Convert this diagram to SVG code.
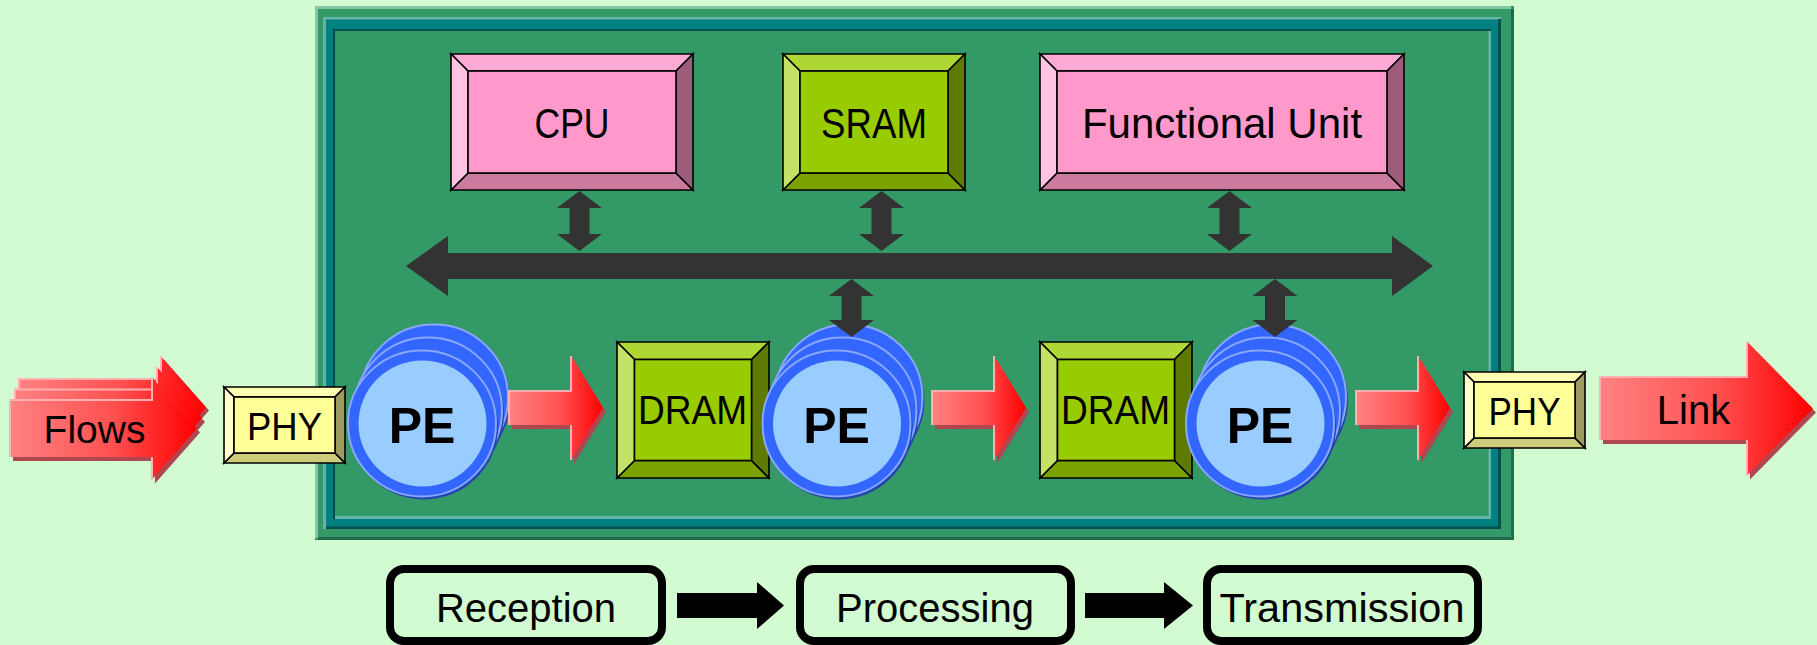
<svg xmlns="http://www.w3.org/2000/svg" width="1817" height="645" viewBox="0 0 1817 645">
<defs>
<linearGradient id="redg" x1="0" y1="0" x2="1" y2="0">
<stop offset="0" stop-color="#ff8282"/>
<stop offset="0.55" stop-color="#ff5050"/>
<stop offset="1" stop-color="#ff0000"/>
</linearGradient>
<style>
.t{font-family:"Liberation Sans",Arial,sans-serif;fill:#000;text-anchor:middle}
.ln{stroke:#000;stroke-width:1.6;stroke-linejoin:miter}
.pk-t{fill:#ffaad5}.pk-l{fill:#ffc4e1}.pk-b{fill:#cc7a9e}.pk-r{fill:#9c5c7a}.pk-f{fill:#ff99cc}
.gr-t{fill:#afd733}.gr-l{fill:#c4e266}.gr-b{fill:#7aa300}.gr-r{fill:#5e7b00}.gr-f{fill:#99cc00}
.ye-t{fill:#ffffb3}.ye-l{fill:#ffffcc}.ye-b{fill:#cccc7a}.ye-r{fill:#9c9c60}.ye-f{fill:#ffff99}
.ring{fill:#3366ff;stroke:#88a8ff;stroke-width:2}
.pshadow{fill:#2444b0}
.face{fill:#99ccff}
.red{fill:url(#redg)}
.rsh{fill:#b04650}
.rhl{fill:none;stroke:#ffb0b0;stroke-width:2}
.dk{fill:#333333}
.blk{fill:#000}
.stage{fill:none;stroke:#000;stroke-width:8}
</style>
</defs>
<rect x="0" y="0" width="1817" height="645" fill="#d2fbd2"/>

<g id="board">
<rect x="315" y="6" width="1199" height="534" fill="#339966"/>
<rect x="315" y="6" width="1196" height="3" fill="#86c6a6"/>
<rect x="315" y="6" width="3" height="532" fill="#86c6a6"/>
<rect x="1511" y="9" width="3" height="531" fill="#206b48"/>
<rect x="318" y="537" width="1196" height="3" fill="#206b48"/>
<rect x="323" y="17" width="1178" height="512" fill="#008080"/>
<rect x="323" y="17" width="1178" height="2.5" fill="#66b3aa"/>
<rect x="323" y="17" width="3" height="512" fill="#66b3aa"/>
<rect x="1498" y="19" width="3" height="510" fill="#004f4f"/>
<rect x="326" y="526.5" width="1175" height="2.5" fill="#004f4f"/>
<rect x="333" y="29" width="1158" height="490" fill="#004f4f"/>
<rect x="335" y="31" width="1156" height="488" fill="#66b3aa"/>
<rect x="335" y="31" width="1153.5" height="485" fill="#339966"/>
</g>

<g id="cpu">
<polygon class="pk-t ln" points="451,54 693,54 676,71 468,71"/>
<polygon class="pk-b ln" points="451,190 693,190 676,173 468,173"/>
<polygon class="pk-l ln" points="451,54 468,71 468,173 451,190"/>
<polygon class="pk-r ln" points="693,54 676,71 676,173 693,190"/>
<rect class="pk-f ln" x="468" y="71" width="208" height="102"/>
<text class="t" x="572" y="138" font-size="42" textLength="75" lengthAdjust="spacingAndGlyphs">CPU</text>
</g>

<g id="sram">
<polygon class="gr-t ln" points="783,54 965,54 948,71 800,71"/>
<polygon class="gr-b ln" points="783,190 965,190 948,173 800,173"/>
<polygon class="gr-l ln" points="783,54 800,71 800,173 783,190"/>
<polygon class="gr-r ln" points="965,54 948,71 948,173 965,190"/>
<rect class="gr-f ln" x="800" y="71" width="148" height="102"/>
<text class="t" x="874" y="138" font-size="42" textLength="106" lengthAdjust="spacingAndGlyphs">SRAM</text>
</g>

<g id="functional-unit">
<polygon class="pk-t ln" points="1040,54 1404,54 1387,71 1057,71"/>
<polygon class="pk-b ln" points="1040,190 1404,190 1387,173 1057,173"/>
<polygon class="pk-l ln" points="1040,54 1057,71 1057,173 1040,190"/>
<polygon class="pk-r ln" points="1404,54 1387,71 1387,173 1404,190"/>
<rect class="pk-f ln" x="1057" y="71" width="330" height="102"/>
<text class="t" x="1222" y="138" font-size="42">Functional Unit</text>
</g>

<g id="dram1">
<polygon class="gr-t ln" points="617,342 769,342 751.5,359.5 634.5,359.5"/>
<polygon class="gr-b ln" points="617,478 769,478 751.5,460.5 634.5,460.5"/>
<polygon class="gr-l ln" points="617,342 634.5,359.5 634.5,460.5 617,478"/>
<polygon class="gr-r ln" points="769,342 751.5,359.5 751.5,460.5 769,478"/>
<rect class="gr-f ln" x="634.5" y="359.5" width="117" height="101"/>
<text class="t" x="692.5" y="424" font-size="40" textLength="109" lengthAdjust="spacingAndGlyphs">DRAM</text>
</g>

<g id="dram2">
<polygon class="gr-t ln" points="1040,342 1192,342 1174.5,359.5 1057.5,359.5"/>
<polygon class="gr-b ln" points="1040,478 1192,478 1174.5,460.5 1057.5,460.5"/>
<polygon class="gr-l ln" points="1040,342 1057.5,359.5 1057.5,460.5 1040,478"/>
<polygon class="gr-r ln" points="1192,342 1174.5,359.5 1174.5,460.5 1192,478"/>
<rect class="gr-f ln" x="1057.5" y="359.5" width="117" height="101"/>
<text class="t" x="1115.5" y="424" font-size="40" textLength="109" lengthAdjust="spacingAndGlyphs">DRAM</text>
</g>

<g id="pe1">
<ellipse class="pshadow" cx="436" cy="400.5" rx="74" ry="73"/>
<ellipse class="ring" cx="434" cy="397.5" rx="74" ry="73"/>
<ellipse class="pshadow" cx="430" cy="413.5" rx="74" ry="73"/>
<ellipse class="ring" cx="428" cy="410.5" rx="74" ry="73"/>
<ellipse class="pshadow" cx="424" cy="426.5" rx="74" ry="73"/>
<ellipse class="ring" cx="422" cy="423.5" rx="74" ry="73"/>
<ellipse class="face" cx="422.5" cy="423.5" rx="64" ry="63"/>
<text class="t" x="422" y="443" font-size="50" font-weight="bold">PE</text>
</g>

<g id="pe2">
<ellipse class="pshadow" cx="850.5" cy="400.5" rx="74" ry="73"/>
<ellipse class="ring" cx="848.5" cy="397.5" rx="74" ry="73"/>
<ellipse class="pshadow" cx="844.5" cy="413.5" rx="74" ry="73"/>
<ellipse class="ring" cx="842.5" cy="410.5" rx="74" ry="73"/>
<ellipse class="pshadow" cx="838.5" cy="426.5" rx="74" ry="73"/>
<ellipse class="ring" cx="836.5" cy="423.5" rx="74" ry="73"/>
<ellipse class="face" cx="837" cy="423.5" rx="64" ry="63"/>
<text class="t" x="836.5" y="443" font-size="50" font-weight="bold">PE</text>
</g>

<g id="pe3">
<ellipse class="pshadow" cx="1274" cy="400.5" rx="74" ry="73"/>
<ellipse class="ring" cx="1272" cy="397.5" rx="74" ry="73"/>
<ellipse class="pshadow" cx="1268" cy="413.5" rx="74" ry="73"/>
<ellipse class="ring" cx="1266" cy="410.5" rx="74" ry="73"/>
<ellipse class="pshadow" cx="1262" cy="426.5" rx="74" ry="73"/>
<ellipse class="ring" cx="1260" cy="423.5" rx="74" ry="73"/>
<ellipse class="face" cx="1260.5" cy="423.5" rx="64" ry="63"/>
<text class="t" x="1260" y="443" font-size="50" font-weight="bold">PE</text>
</g>

<g id="phy-in">
<polygon class="ye-t ln" points="224,387 345,387 335,397 234,397"/>
<polygon class="ye-b ln" points="224,463 345,463 335,453 234,453"/>
<polygon class="ye-l ln" points="224,387 234,397 234,453 224,463"/>
<polygon class="ye-r ln" points="345,387 335,397 335,453 345,463"/>
<rect class="ye-f ln" x="234" y="397" width="101" height="56"/>
<text class="t" x="284.5" y="440" font-size="39" textLength="75" lengthAdjust="spacingAndGlyphs">PHY</text>
</g>

<g id="phy-out">
<polygon class="ye-t ln" points="1464,372 1585,372 1575,382 1474,382"/>
<polygon class="ye-b ln" points="1464,448 1585,448 1575,438 1474,438"/>
<polygon class="ye-l ln" points="1464,372 1474,382 1474,438 1464,448"/>
<polygon class="ye-r ln" points="1585,372 1575,382 1575,438 1585,448"/>
<rect class="ye-f ln" x="1474" y="382" width="101" height="56"/>
<text class="t" x="1524.5" y="425" font-size="39" textLength="72" lengthAdjust="spacingAndGlyphs">PHY</text>
</g>

<g id="flows">
<polygon class="rsh" points="22,382 164,382 164,359.5 209,410.5 164,461.5 164,439 22,439"/>
<polygon class="red" points="19,379 161,379 161,356.5 206,407.5 161,458.5 161,436 19,436"/>
<polyline class="rhl" points="19,436 19,379 161,379 161,356.5"/>
<polygon class="rsh" points="18,393.5 160,393.5 160,371 205,422 160,473 160,450.5 18,450.5"/>
<polygon class="red" points="15,389.5 157,389.5 157,367 202,418 157,469 157,446.5 15,446.5"/>
<polyline class="rhl" points="15,446.5 15,389.5 157,389.5 157,367"/>
<polygon class="rsh" points="13,404 155,404 155,381.5 200,432.5 155,483.5 155,461 13,461"/>
<polygon class="red" points="10,400 152,400 152,377.5 197,428.5 152,479.5 152,457 10,457"/>
<polyline class="rhl" points="10,457 10,400 152,400 152,377.5"/>
<polyline class="rhl" points="152,457 152,479.5"/>
<text class="t" x="94.5" y="442.5" font-size="39">Flows</text>
</g>

<g id="link">
<polygon class="rsh" points="1603,381 1750,381 1750,345.5 1816,412.5 1750,479.5 1750,444 1603,444"/>
<polygon class="red" points="1600,377 1747,377 1747,341.5 1813,408.5 1747,475.5 1747,440 1600,440"/>
<polyline class="rhl" points="1600,440 1600,377 1747,377 1747,341.5"/>
<polyline class="rhl" points="1747,440 1747,475.5"/>
<text class="t" x="1693.5" y="424" font-size="40">Link</text>
</g>

<g id="stage-reception">
<rect class="stage" x="390" y="569" width="272" height="72" rx="14"/>
<text class="t" x="526" y="621.7" font-size="40">Reception</text>
</g>
<g id="stage-processing">
<rect class="stage" x="800" y="569" width="271" height="72" rx="14"/>
<text class="t" x="935" y="621.7" font-size="40">Processing</text>
</g>
<g id="stage-transmission">
<rect class="stage" x="1207" y="569" width="271" height="72" rx="14"/>
<text class="t" x="1342" y="621.7" font-size="40" textLength="245" lengthAdjust="spacingAndGlyphs">Transmission</text>
</g>

<g id="connectors">
<polygon class="dk" points="406,266 448,236 448,253 1392,253 1392,236 1433,266 1392,296 1392,279 448,279 448,296"/>
<polygon class="dk" points="579.5,191 602,208 589.5,208 589.5,234 602,234 579.5,251 557,234 569.5,234 569.5,208 557,208"/>
<polygon class="dk" points="881.5,191 904,208 891.5,208 891.5,234 904,234 881.5,251 859,234 871.5,234 871.5,208 859,208"/>
<polygon class="dk" points="1229.5,191 1252,208 1239.5,208 1239.5,234 1252,234 1229.5,251 1207,234 1219.5,234 1219.5,208 1207,208"/>
<polygon class="dk" points="851.5,279 874,296 861.5,296 861.5,320 874,320 851.5,337 829,320 841.5,320 841.5,296 829,296"/>
<polygon class="dk" points="1275,279 1297.5,296 1285,296 1285,320 1297.5,320 1275,337 1252.5,320 1265,320 1265,296 1252.5,296"/>

<polygon class="rsh" points="512,395 574,395 574,360 606,412 574,464 574,429 512,429"/>
<polygon class="red" points="509,391 571,391 571,356 603,408 571,460 571,425 509,425"/>
<polyline class="rhl" points="509,425 509,391 571,391 571,356"/>
<polyline class="rhl" points="571,425 571,460"/>

<polygon class="rsh" points="935,395 997,395 997,360 1029,412 997,464 997,429 935,429"/>
<polygon class="red" points="932,391 994,391 994,356 1026,408 994,460 994,425 932,425"/>
<polyline class="rhl" points="932,425 932,391 994,391 994,356"/>
<polyline class="rhl" points="994,425 994,460"/>

<polygon class="rsh" points="1359,395 1421,395 1421,360 1453,412 1421,464 1421,429 1359,429"/>
<polygon class="red" points="1356,391 1418,391 1418,356 1450,408 1418,460 1418,425 1356,425"/>
<polyline class="rhl" points="1356,425 1356,391 1418,391 1418,356"/>
<polyline class="rhl" points="1418,425 1418,460"/>

<polygon class="blk" points="677,593 757,593 757,582 784,605.5 757,629 757,618 677,618"/>
<polygon class="blk" points="1085,593 1164,593 1164,582 1193,605.5 1164,629 1164,618 1085,618"/>
</g>
</svg>
